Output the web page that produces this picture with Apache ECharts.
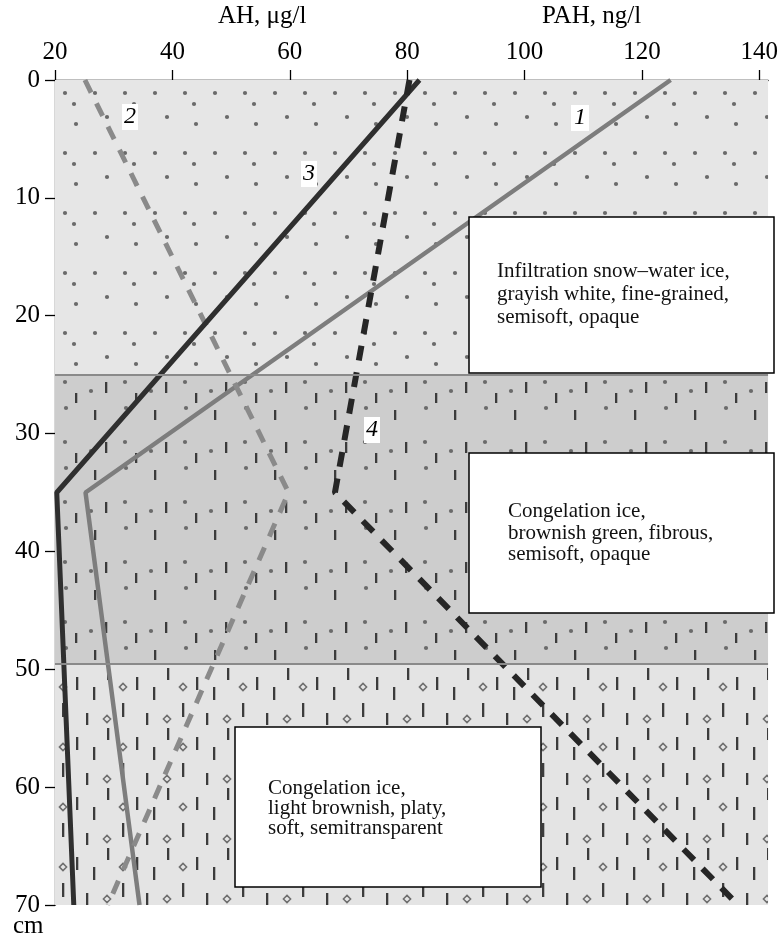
<!DOCTYPE html>
<html><head><meta charset="utf-8">
<script src="https://cdn.jsdelivr.net/npm/echarts@6/dist/echarts.min.js"></script>
<style>html,body{margin:0;padding:0;background:#fff}#c{width:781px;height:939px}</style>
</head><body><div id="c"></div>
<script>
// ---- data ----
const depthCm = [0, 35, 70];
const series1 = [124.9, 25.2, 34.4];   // curve 1 (gray solid)
const series2 = [25.1, 59.8, 29.0];    // curve 2 (gray dashed)
const series3 = [82.1, 20.3, 23.2];    // curve 3 (dark solid)
const series4 = [80.4, 67.7, 136.4];   // curve 4 (dark dashed)
const xTicks = [20, 40, 60, 80, 100, 120, 140];
const layerTop = [0, 25, 49.5];
const layerBottom = [25, 49.5, 70];
const layerText = [
  'Infiltration snow\u2013water ice,\ngrayish white, fine-grained,\nsemisoft, opaque',
  'Congelation ice,\nbrownish green, fibrous,\nsemisoft, opaque',
  'Congelation ice,\nlight brownish, platy,\nsoft, semitransparent'
];
const curveNames = ['1', '2', '3', '4'];

// ---- patterns ----
const T = 60;
function tile(bg, fn) {
  const c = document.createElement('canvas'); c.width = T; c.height = T;
  const g = c.getContext('2d'); g.fillStyle = bg; g.fillRect(0, 0, T, T); fn(g); return c;
}
function wrap(fn) { for (const dx of [-T, 0, T]) for (const dy of [-T, 0, T]) fn(dx, dy); }
function dot(g, x, y, col) { wrap((dx, dy) => { g.beginPath(); g.arc(x + dx, y + dy, 2.1, 0, Math.PI * 2); g.fillStyle = col; g.fill(); }); }
function dash(g, x, y1, y2, col) { wrap((dx, dy) => { g.fillStyle = col; g.fillRect(x + dx - 1, y1 + dy, 2.3, y2 - y1); }); }
function diamond(g, x, y, col) {
  wrap((dx, dy) => { g.beginPath(); g.moveTo(x + dx, y + dy - 3.6); g.lineTo(x + dx + 3.6, y + dy); g.lineTo(x + dx, y + dy + 3.6); g.lineTo(x + dx - 3.6, y + dy); g.closePath(); g.strokeStyle = col; g.lineWidth = 1.5; g.stroke(); });
}
const pat1 = tile('#e6e6e6', g => {
  [[5, 33], [35, 33], [14, 44], [47, 57], [16, 4]].forEach(p => dot(g, p[0], p[1], '#6a6a6a'));
});
const pat2 = tile('#cdcdcd', g => {
  [[6, 48], [5, 22], [31, 31]].forEach(p => dot(g, p[0], p[1], '#6a6a6a'));
  [[35, 50, 60], [46, 22, 33], [16, 33, 43]].forEach(p => dash(g, p[0], p[1], p[2], '#3c3c3c'));
});
const pat3 = tile('#e4e4e4', g => {
  [[3, 27], [47, 59]].forEach(p => diamond(g, p[0], p[1], '#6e6e6e'));
  [[17, 17, 30], [34, 27, 40], [48, 8, 20], [3, 43, 57], [27, 53, 65]].forEach(p => dash(g, p[0], p[1], p[2], '#3c3c3c'));
});
const pats = [pat1, pat2, pat3];

function pairs(xs) { return xs.map((v, i) => [v, depthCm[i]]); }

const serif = 'Liberation Serif, Times New Roman, serif';
const chart = echarts.init(document.getElementById('c'));
chart.setOption({
  animation: false,
  grid: { left: 55, right: 10, top: 80, bottom: 34 },
  xAxis: {
    type: 'value', position: 'top', min: 20, max: 141.5,
    splitLine: { show: false },
    axisLine: { lineStyle: { color: '#000', width: 1.3 } },
    axisTick: { show: true, length: 10, inside: false, customValues: xTicks, lineStyle: { color: '#000', width: 1.3 } },
    axisLabel: { customValues: xTicks, fontFamily: serif, fontSize: 25, color: '#000', margin: 15 }
  },
  yAxis: {
    type: 'value', inverse: true, min: 0, max: 70, interval: 10,
    splitLine: { show: false },
    axisLine: { show: true, lineStyle: { color: '#000', width: 1.3 } },
    axisTick: { show: true, length: 10, lineStyle: { color: '#000', width: 1.3 } },
    axisLabel: { fontFamily: serif, fontSize: 25, color: '#000', margin: 15 }
  },
  series: [
    {
      type: 'line', data: [[20, 0]], showSymbol: false, symbol: 'none', lineStyle: { opacity: 0 }, z: 1, silent: true,
      markArea: {
        silent: true,
        data: layerTop.map((t, i) => [{ yAxis: t, itemStyle: { color: { image: pats[i], repeat: 'repeat' } } }, { yAxis: layerBottom[i] }])
      },
      markLine: {
        silent: true, symbol: 'none', label: { show: false },
        lineStyle: { color: '#8a8a8a', width: 2, type: 'solid' },
        data: [{ yAxis: layerBottom[0] }, { yAxis: layerBottom[1] }]
      }
    },
    { name: curveNames[0], type: 'line', data: pairs(series1), symbol: 'none', z: 3, lineStyle: { color: '#7d7d7d', width: 4.5 } },
    { name: curveNames[1], type: 'line', data: pairs(series2), symbol: 'none', z: 3, lineStyle: { color: '#8a8a8a', width: 5, type: [14, 12] } },
    { name: curveNames[2], type: 'line', data: pairs(series3), symbol: 'none', z: 3, lineStyle: { color: '#2f2f2f', width: 5 } },
    { name: curveNames[3], type: 'line', data: pairs(series4), symbol: 'none', z: 3, lineStyle: { color: '#262626', width: 6, type: [15, 12] } }
  ],
  graphic: [
    { type: 'text', left: 218, top: 4, style: { text: 'AH, \u03bcg/l', font: '25px ' + serif, fill: '#000' } },
    { type: 'text', left: 542, top: 4, style: { text: 'PAH, ng/l', font: '25px ' + serif, fill: '#000' } },
    { type: 'text', left: 13, top: 914, style: { text: 'cm', font: '25px ' + serif, fill: '#000' } },
    // layer description boxes
    { type: 'rect', shape: { x: 469, y: 217, width: 305, height: 156 }, style: { fill: '#fff', stroke: '#000', lineWidth: 1.5 }, z: 10 },
    { type: 'text', x: 497, y: 260, z: 11, style: { text: layerText[0], font: '21px ' + serif, fill: '#111', lineHeight: 23 } },
    { type: 'rect', shape: { x: 469, y: 453, width: 305, height: 160 }, style: { fill: '#fff', stroke: '#000', lineWidth: 1.5 }, z: 10 },
    { type: 'text', x: 508, y: 501, z: 11, style: { text: layerText[1], font: '21px ' + serif, fill: '#111', lineHeight: 21.5 } },
    { type: 'rect', shape: { x: 235, y: 727, width: 306, height: 160 }, style: { fill: '#fff', stroke: '#000', lineWidth: 1.5 }, z: 10 },
    { type: 'text', x: 268, y: 778, z: 11, style: { text: layerText[2], font: '21px ' + serif, fill: '#111', lineHeight: 20 } },
    // curve numbers
    { type: 'text', x: 580, y: 118, z: 11, style: { text: curveNames[0], font: 'italic 24px ' + serif, fill: '#000', align: 'center', verticalAlign: 'middle', backgroundColor: '#fff', padding: [1, 3] } },
    { type: 'text', x: 130, y: 117, z: 11, style: { text: curveNames[1], font: 'italic 24px ' + serif, fill: '#000', align: 'center', verticalAlign: 'middle', backgroundColor: '#fff', padding: [1, 2] } },
    { type: 'text', x: 309, y: 174, z: 11, style: { text: curveNames[2], font: 'italic 24px ' + serif, fill: '#000', align: 'center', verticalAlign: 'middle', backgroundColor: '#fff', padding: [1, 2] } },
    { type: 'text', x: 372, y: 430, z: 11, style: { text: curveNames[3], font: 'italic 24px ' + serif, fill: '#000', align: 'center', verticalAlign: 'middle', backgroundColor: '#fff', padding: [1, 2] } }
  ]
});
</script>
</body></html>
